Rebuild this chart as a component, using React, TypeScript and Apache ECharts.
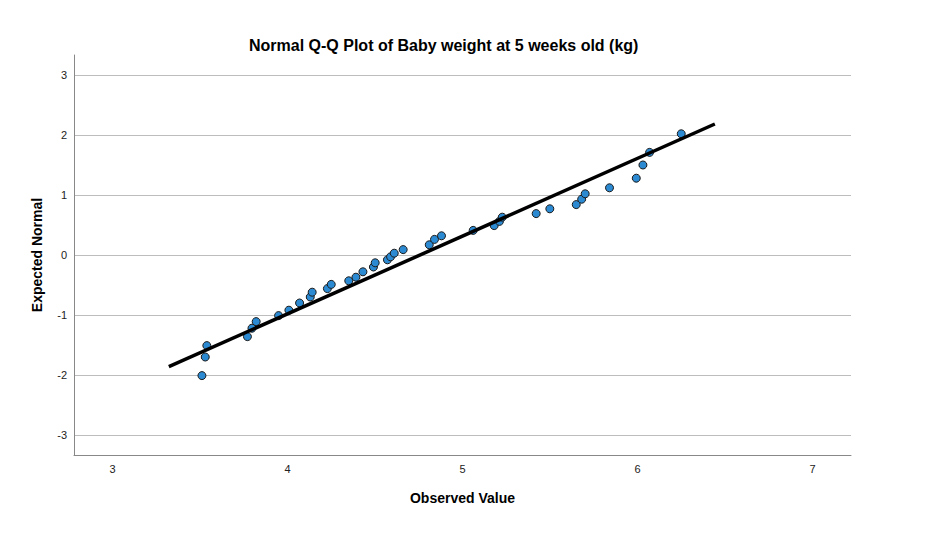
import { useEffect, useRef } from 'react';
import * as echarts from 'echarts';

// observed value (kg) and expected normal value for each case
const observed = [
  3.511, 3.53, 3.539, 3.771, 3.797, 3.821, 3.949, 4.008, 4.069, 4.13,
  4.141, 4.228, 4.25, 4.35, 4.391, 4.431, 4.491, 4.501, 4.571, 4.589,
  4.61, 4.661, 4.81, 4.84, 4.88, 5.061, 5.181, 5.211, 5.227, 5.421,
  5.499, 5.65, 5.681, 5.701, 5.84, 5.993, 6.031, 6.069, 6.25,
];
const expected = [
  -2.01, -1.7, -1.51, -1.36, -1.22, -1.11, -1.01, -0.92, -0.8, -0.7,
  -0.62, -0.56, -0.49, -0.43, -0.37, -0.28, -0.2, -0.13, -0.08, -0.03,
  0.03, 0.09, 0.17, 0.26, 0.32, 0.41, 0.49, 0.56, 0.63, 0.69,
  0.77, 0.84, 0.93, 1.02, 1.12, 1.28, 1.5, 1.71, 2.02,
];

// reference line ends
const lineX = [3.322, 6.442];
const lineY = [-1.86, 2.183];

const xTicks = [3, 4, 5, 6, 7];
const yTicks = [-3, -2, -1, 0, 1, 2, 3];

export default function App() {
  const chartRef = useRef<HTMLDivElement>(null);

  useEffect(() => {
    if (!chartRef.current) return;
    document.body.style.margin = '0';
    const chart = echarts.init(chartRef.current, null, { renderer: 'svg' });

    const font = 'Arial, "Liberation Sans", sans-serif';

    const option: echarts.EChartsOption = {
      animation: false,
      backgroundColor: '#fff',
      textStyle: { fontFamily: font },
      title: {
        text: 'Normal Q-Q Plot of Baby weight at 5 weeks old (kg)',
        left: 244,
        top: 32,
        textStyle: { fontSize: 16, fontWeight: 'bold', color: '#000', fontFamily: font },
      },
      grid: { left: 74, right: 75, top: 55, bottom: 86 },
      xAxis: {
        type: 'value',
        min: 2.78,
        max: 7.22,
        name: 'Observed Value',
        nameLocation: 'middle',
        nameGap: 36,
        nameTextStyle: { fontSize: 14, fontWeight: 'bold', color: '#000', fontFamily: font },
        axisLine: { show: true, onZero: false, lineStyle: { color: '#888', width: 1 } },
        axisTick: { show: false, customValues: xTicks },
        axisLabel: { customValues: xTicks, fontSize: 11, color: '#222', margin: 8, fontFamily: font },
        splitLine: { show: false },
      },
      yAxis: {
        type: 'value',
        min: -3.333,
        max: 3.333,
        name: 'Expected Normal',
        nameLocation: 'middle',
        nameRotate: 90,
        nameGap: 30,
        nameTextStyle: { fontSize: 14, fontWeight: 'bold', color: '#000', fontFamily: font },
        axisLine: { show: true, onZero: false, lineStyle: { color: '#888', width: 1 } },
        axisTick: { show: false, customValues: yTicks },
        axisLabel: { customValues: yTicks, fontSize: 11, color: '#222', margin: 7, fontFamily: font },
        splitLine: { show: true, lineStyle: { color: '#bdbdbd', width: 1 } },
      },
      series: [
        {
          type: 'scatter',
          data: observed.map((v, i) => [v, expected[i]]),
          symbol: 'circle',
          symbolSize: 8,
          itemStyle: { color: '#2b8ad2', borderColor: '#1a1a1a', borderWidth: 1, opacity: 1 },
          z: 2,
        },
        {
          type: 'line',
          data: lineX.map((v, i) => [v, lineY[i]]),
          symbol: 'none',
          lineStyle: { color: '#000', width: 3.5 },
          z: 3,
        },
      ],
    };

    chart.setOption(option);
    return () => {
      chart.dispose();
    };
  }, []);

  return <div ref={chartRef} style={{ width: 926, height: 541 }} />;
}
